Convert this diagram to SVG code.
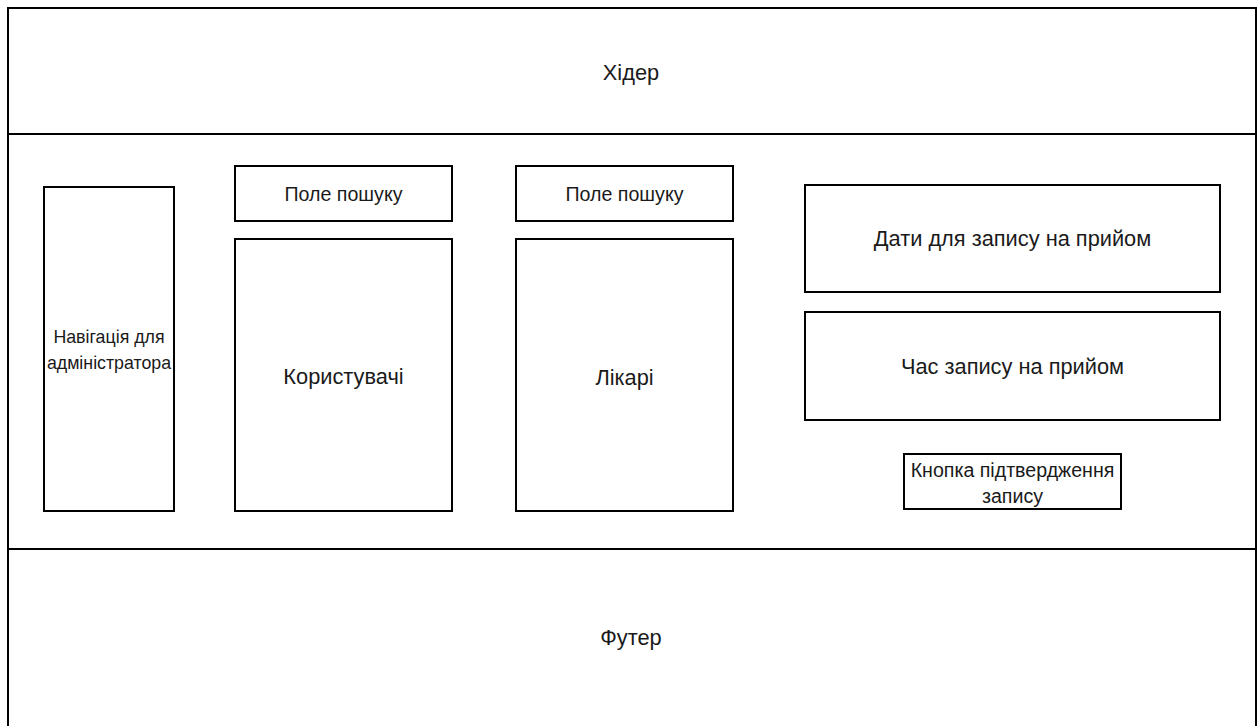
<svg xmlns="http://www.w3.org/2000/svg" width="1258" height="726" viewBox="0 0 1258 726">
<style>
rect{fill:#fff;stroke:#000;stroke-width:2}
text{font-family:"Liberation Sans",Arial,sans-serif;fill:#1a1a1a;text-anchor:middle;dominant-baseline:central}
.n{font-size:17.8px}
.s{font-size:19.6px}
.m{font-size:21.8px}
</style>
<rect x="0" y="0" width="1258" height="726" style="stroke:none"/>
<g id="header"><rect x="8" y="8" width="1248" height="126"/><text x="631" y="72" class="m">Хідер</text></g>
<g id="body"><rect x="8" y="134" width="1248" height="415"/></g>
<g id="footer"><rect x="8" y="549" width="1248" height="190"/><text x="631" y="637" class="m">Футер</text></g>
<g id="nav"><rect x="44" y="187" width="130" height="324"/><text x="109" y="337" class="n">Навігація для</text><text x="109" y="363" class="n">адміністратора</text></g>
<g id="search1"><rect x="235" y="166" width="217" height="55"/><text x="343.5" y="193.5" class="s">Поле пошуку</text></g>
<g id="users"><rect x="235" y="239" width="217" height="272"/><text x="343.5" y="376" class="m">Користувачі</text></g>
<g id="search2"><rect x="516" y="166" width="217" height="55"/><text x="624.5" y="193.5" class="s">Поле пошуку</text></g>
<g id="doctors"><rect x="516" y="239" width="217" height="272"/><text x="624.5" y="377" class="m">Лікарі</text></g>
<g id="dates"><rect x="805" y="185" width="415" height="107"/><text x="1012.5" y="238.5" class="m">Дати для запису на прийом</text></g>
<g id="time"><rect x="805" y="312" width="415" height="108"/><text x="1012.5" y="366" class="m">Час запису на прийом</text></g>
<g id="button"><rect x="904" y="454" width="217" height="55"/><text x="1012.5" y="470" class="s">Кнопка підтвердження</text><text x="1012.5" y="496" class="s">запису</text></g>
<g id="connectors"/>
</svg>
